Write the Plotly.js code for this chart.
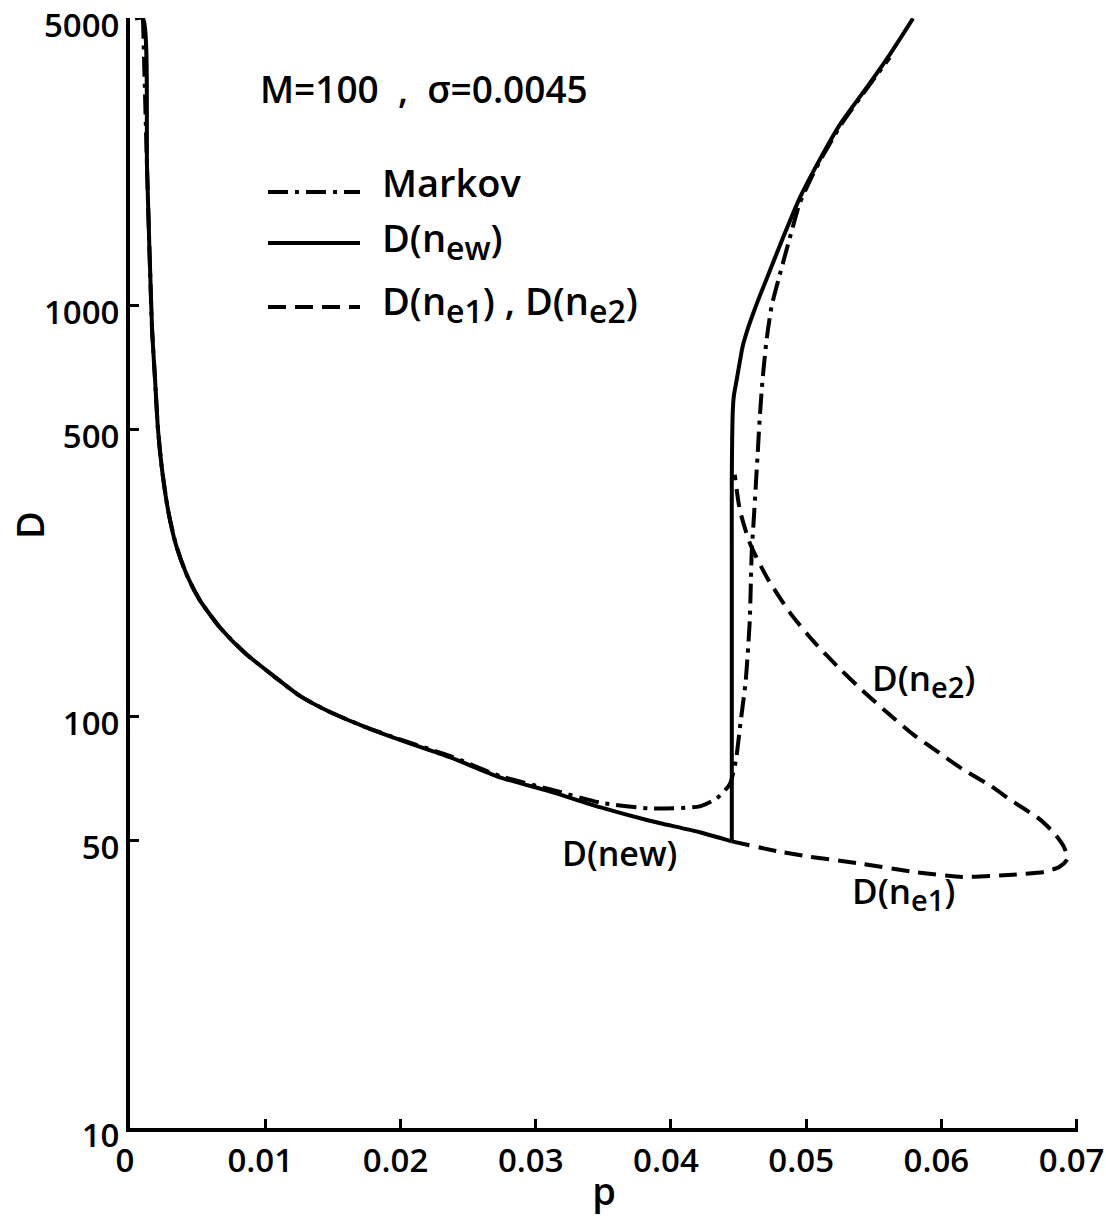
<!DOCTYPE html>
<html>
<head>
<meta charset="utf-8">
<script src="https://cdn.plot.ly/plotly-3.0.1.min.js"></script>
<style>
  html, body { margin: 0; padding: 0; background: #ffffff; }
  #chart { width: 1106px; height: 1216px; }
</style>
</head>
<body>
<div id="chart"></div>
<script>
// Mean delay D against traffic p, M = 100, sigma = 0.0045 (log scale on D)

// D(n_ew), branch falling from the small-p spike down to the switching point
const newLowP = [0.00037, 0.00096, 0.00126, 0.00163, 0.00185, 0.00207, 0.00237, 0.00281,
                 0.00340, 0.00421, 0.00517, 0.00665, 0.00850, 0.01072, 0.01256, 0.01478,
                 0.01737, 0.01996, 0.02365, 0.02735, 0.03104, 0.03474, 0.03843, 0.04213, 0.04450];
const newLowD = [5000, 5000, 2163, 879, 664, 500, 399, 319,
                 262, 221, 192, 165, 143, 125, 112.5, 102.8,
                 94.6, 87.9, 79.8, 71.3, 65.9, 60.3, 55.9, 52.4, 49.8];

// D(n_ew), jump at the switching point and the rising branch
const newHighP = [0.04450, 0.04450, 0.04450, 0.04450, 0.04457, 0.04465, 0.04487, 0.04509,
                  0.04531, 0.04568, 0.04612, 0.04657, 0.04708, 0.04827, 0.04952, 0.05078,
                  0.05248, 0.05448, 0.05618, 0.05790];
const newHighD = [49.8, 109.5, 240, 378, 551, 603, 663, 730,
                  798, 879, 966, 1057, 1164, 1459, 1828, 2198,
                  2755, 3397, 4084, 5000];

// Markov model
const markovP = [0.00096, 0.00126, 0.00163, 0.00185, 0.00207, 0.00237, 0.00281, 0.00340,
                 0.00421, 0.00517, 0.00665, 0.00850, 0.01072, 0.01256, 0.01478, 0.01737,
                 0.01996, 0.02365, 0.02735, 0.03104, 0.03474, 0.03843, 0.04213, 0.04339,
                 0.04435, 0.04479, 0.04516, 0.04553, 0.04583, 0.04590, 0.04597, 0.04612,
                 0.04627, 0.04642, 0.04656, 0.04678, 0.04708, 0.04745, 0.04797, 0.04878,
                 0.04952, 0.05026, 0.05093, 0.05263, 0.05455, 0.05618];
const markovD = [5000, 2163, 879, 664, 500, 399, 319, 262,
                 221, 192, 165, 143, 125, 112.5, 102.8, 94.6,
                 88.2, 80.4, 71.8, 66.7, 61.9, 59.9, 60.6, 63.4,
                 68.6, 78.0, 97.7, 122.4, 171.7, 206.6, 250, 301,
                 363, 440, 530, 664, 830, 1000, 1164, 1459,
                 1775, 2011, 2223, 2773, 3397, 4018];

// D(n_e1): lower dashed branch, from the switching point out to the turning point
const e1P = [0.04450, 0.04804, 0.05026, 0.05418, 0.05788, 0.06157, 0.06527, 0.06763, 0.06874, 0.06933];
const e1D = [49.8, 47.0, 45.7, 43.9, 42.0, 40.8, 41.3, 42.0, 43.2, 45.2];

// D(n_e2): upper dashed branch, from the top of the jump out to the turning point
const e2P = [0.04472, 0.04509, 0.04583, 0.04708, 0.04878, 0.05048, 0.05248, 0.05418, 0.05618,
             0.05788, 0.05987, 0.06157, 0.06357, 0.06527, 0.06726, 0.06837, 0.06904, 0.06933];
const e2D = [388, 319, 265, 219, 179.6, 153.5, 131, 115.8, 101.2,
             90.8, 81.6, 74.6, 68.2, 62.3, 56.4, 52.0, 48.4, 45.2];

// Axis ticks
const xTickVals = [0, 0.01, 0.02, 0.03, 0.04, 0.05, 0.06, 0.07];
const xTickText = ['0', '0.01', '0.02', '0.03', '0.04', '0.05', '0.06', '0.07'];
const yTickVals = [10, 50, 100, 500, 1000, 5000];
const yTickText = ['10', '50', '100', '500', '1000', '5000'];

const INK = '#000000';
const FONT = 'Open Sans, Liberation Sans, sans-serif';
const DASHDOT = '20px,7px,4px,7px';
const DASHED = '18px,9px';
const LW = 4;

// e1 runs out to the turning point, e2 comes back from it: one continuous dashed curve
const ePath = e1P.concat(e2P.slice().reverse().slice(1));
const eVals = e1D.concat(e2D.slice().reverse().slice(1));

const traces = [
  { x: markovP, y: markovD, mode: 'lines', name: 'Markov',
    line: { color: INK, width: LW, dash: DASHDOT, shape: 'spline', smoothing: 0.6 } },
  { x: ePath, y: eVals, mode: 'lines', name: 'D(n_e1), D(n_e2)',
    line: { color: INK, width: LW, dash: DASHED, shape: 'spline', smoothing: 0.6 } },
  { x: newLowP, y: newLowD, mode: 'lines', name: 'D(n_ew)',
    line: { color: INK, width: LW, shape: 'spline', smoothing: 0.6 } },
  { x: newHighP, y: newHighD, mode: 'lines', name: 'D(n_ew)',
    line: { color: INK, width: LW, shape: 'spline', smoothing: 0.8 } }
];

// plot-area geometry in pixels, used to place the key and labels
const L = 130, R = 28, T = 18, B = 88, W = 1106, H = 1216;
const px = v => (v - L) / (W - L - R);
const py = v => ((H - B) - v) / (H - T - B);

function keyLine(y, dash) {
  return { type: 'line', xref: 'paper', yref: 'paper',
           x0: px(268), x1: px(360), y0: py(y), y1: py(y),
           line: { color: INK, width: LW, dash: dash } };
}
function label(x, y, text, size) {
  return { xref: 'paper', yref: 'paper', x: px(x), y: py(y), xanchor: 'left', yanchor: 'middle',
           text: text, showarrow: false,
           font: { family: FONT, size: size, color: INK, weight: 600 } };
}
// subscript kept close to full size, as in the lettering of the figure
const sub = (s, size) => '<sub><span style="font-size:' + size + 'px">' + s + '</span></sub>';

const tickFont = { family: FONT, size: 33, color: INK, weight: 600 };

const layout = {
  width: W, height: H,
  paper_bgcolor: '#ffffff', plot_bgcolor: '#ffffff',
  margin: { l: L, r: R, t: T, b: B, pad: 0 },
  showlegend: false,
  font: { family: FONT, color: INK, size: 33 },
  xaxis: {
    range: [0, 0.0701], tickvals: xTickVals, ticktext: xTickText,
    showgrid: false, zeroline: false, showline: true, linecolor: INK, linewidth: 4,
    ticks: 'inside', ticklen: 9, tickwidth: 3, tickcolor: INK,
    tickfont: tickFont, ticklabeloverflow: 'allow', ticklabelshift: -5,
    title: { text: 'p', font: { family: FONT, size: 38, color: INK, weight: 600 }, standoff: 0 }
  },
  yaxis: {
    type: 'log', range: [1, 3.7], tickvals: yTickVals, ticktext: yTickText,
    showgrid: false, zeroline: false, showline: true, linecolor: INK, linewidth: 4,
    ticks: 'inside', ticklen: 9, tickwidth: 3, tickcolor: INK,
    tickfont: tickFont, ticklabeloverflow: 'allow', ticklabelshift: 7
  },
  shapes: [ keyLine(192, DASHDOT), keyLine(243, 'solid'), keyLine(307, DASHED) ],
  annotations: [
    // vertical axis title
    { xref: 'paper', yref: 'paper', x: px(29), y: py(525), xanchor: 'center', yanchor: 'middle',
      text: 'D', textangle: -90, showarrow: false,
      font: { family: FONT, size: 38, color: INK, weight: 600 } },
    label(258, 88, 'M=100  ,  σ=0.0045', 37),
    label(380, 182, 'Markov', 38),
    label(380, 240, 'D(n' + sub('ew', 32) + ')', 38),
    label(380, 303, 'D(n' + sub('e1', 32) + ') , D(n' + sub('e2', 32) + ')', 38),
    label(870, 680, 'D(n' + sub('e2', 29) + ')', 35),
    label(560, 853, 'D(new)', 34),
    label(850, 893, 'D(n' + sub('e1', 29) + ')', 35)
  ]
};

Plotly.newPlot('chart', traces, layout, { staticPlot: true, displayModeBar: false });
</script>
</body>
</html>
